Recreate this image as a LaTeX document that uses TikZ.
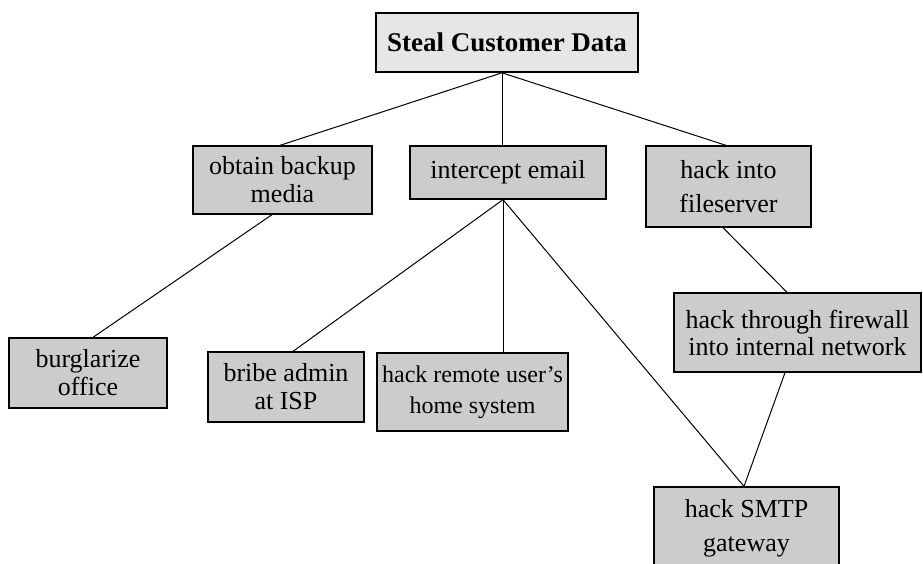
\documentclass[tikz,border=0pt]{standalone}
\usepackage{fontspec}
\setmainfont{Liberation Serif}
\usetikzlibrary{calc}

\definecolor{rootfill}{HTML}{E6E6E6}
\definecolor{boxfill}{HTML}{CCCCCC}

\tikzset{
  goalbox/.style={draw=black, line width=1.3pt, fill=boxfill, inner sep=0pt,
    align=center, font=\fontsize{26}{28}\selectfont,
    minimum width=#1},
  topgoal/.style={draw=black, line width=1.6pt, fill=rootfill, inner sep=0pt,
    align=center, font=\fontsize{27}{30}\selectfont\bfseries},
  link/.style={draw=black, line width=1pt},
}

\begin{document}
\begin{tikzpicture}[x=1pt, y=-1pt]
  % page area
  \fill[white] (0,0) rectangle (923,564);
  \useasboundingbox (0,0) rectangle (923,564);

  % attack tree goals
  \node[topgoal, minimum width=262pt, minimum height=59pt] (root) at (507,42.5) {Steal Customer Data};

  \node[goalbox=179pt, minimum height=68pt] (backup) at (282.5,180) {obtain backup\\media};
  \node[goalbox=196pt, minimum height=53pt] (email) at (508,172.5) {intercept email};
  \node[goalbox=165pt, minimum height=81pt, font=\fontsize{26}{34}\selectfont] (fileserver) at (728.5,186.5) {hack into\\fileserver};

  \node[goalbox=158pt, minimum height=70pt] (burglar) at (88,373) {burglarize\\office};
  \node[goalbox=156pt, minimum height=70pt] (bribe) at (286,387) {bribe admin\\at ISP};
  \node[goalbox=191pt, minimum height=78pt, font=\fontsize{24}{31}\selectfont] (remote) at (472.5,392) {hack remote user’s\\home system};

  \node[goalbox=247pt, minimum height=79pt, font=\fontsize{26}{27}\selectfont] (firewall) at (797.5,332.5) {hack through firewall\\into internal network};
  \node[goalbox=185pt, minimum height=82pt, font=\fontsize{26}{34}\selectfont] (smtp) at (746.5,528) {hack SMTP\\gateway};

  % connectors
  \draw[link] ([xshift=-5pt]root.south) -- ([xshift=-2.5pt]backup.north);
  \draw[link] ([xshift=-5pt]root.south) -- ([xshift=-6pt]email.north);
  \draw[link] ([xshift=-5pt]root.south) -- ([xshift=-2.5pt]fileserver.north);

  \draw[link] ([xshift=-10.5pt]backup.south) -- ([xshift=5pt]burglar.north);

  \draw[link] ([xshift=-5pt]email.south) -- ([xshift=7pt]bribe.north);
  \draw[link] ([xshift=-5pt]email.south) -- ([xshift=30.5pt]remote.north);
  \draw[link] ([xshift=-5pt]email.south) -- ([xshift=-2.5pt]smtp.north);

  \draw[link] ([xshift=-5.5pt]fileserver.south) -- ([xshift=-10.5pt]firewall.north);
  \draw[link] ([xshift=-12.5pt]firewall.south) -- ([xshift=-2.5pt]smtp.north);
\end{tikzpicture}
\end{document}
